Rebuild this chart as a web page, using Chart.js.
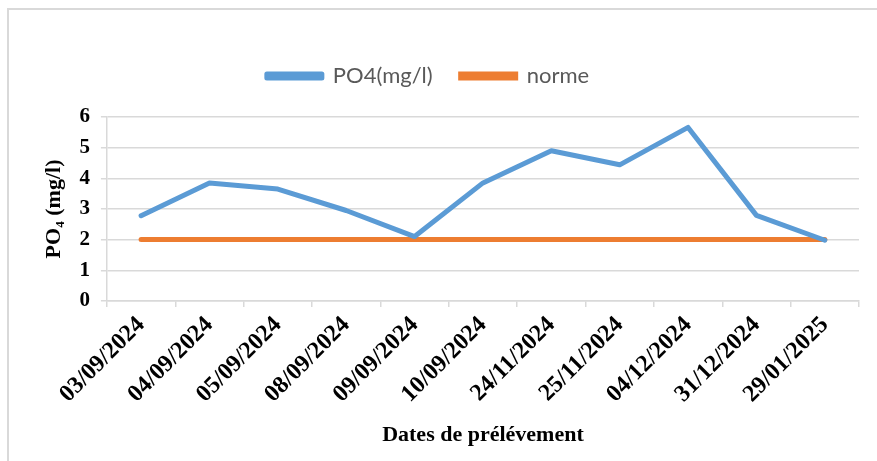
<!DOCTYPE html>
<html>
<head>
<meta charset="utf-8">
<script src="https://cdn.jsdelivr.net/npm/chart.js@4.4.1/dist/chart.umd.min.js"></script>
<style>
  html, body { margin: 0; padding: 0; background: #fff; }
  #wrap { position: relative; width: 877px; height: 461px; overflow: hidden; }
  #frame { position: absolute; left: 7px; top: 8px; width: 900px; height: 500px;
           border-top: 2px solid #d9d9d9; border-left: 2px solid #d9d9d9; }
  #c { position: absolute; left: 0; top: 0; }
</style>
</head>
<body>
<div id="wrap">
  <div id="frame"></div>
  <canvas id="c" width="877" height="461"></canvas>
</div>
<script>
// PO4 measurements vs. the limit value
const dates = ['03/09/2024', '04/09/2024', '05/09/2024', '08/09/2024', '09/09/2024',
               '10/09/2024', '24/11/2024', '25/11/2024', '04/12/2024', '31/12/2024', '29/01/2025'];
const po4   = [2.78, 3.85, 3.65, 2.95, 2.1, 3.85, 4.9, 4.44, 5.66, 2.79, 1.98];
const norme = [2, 2, 2, 2, 2, 2, 2, 2, 2, 2, 2];
const yTicks = [0, 1, 2, 3, 4, 5, 6];

const serif = '"Liberation Serif", "Times New Roman", serif';
const gridCol = '#d9d9d9';

// extra room under the legend + shift it left a bit (Excel puts it off-centre)
const legendTweak = {
  id: 'legendTweak',
  beforeUpdate(chart) {
    const lg = chart.legend;
    if (!lg || lg._tweaked) return;
    const fit = lg.fit;
    lg.fit = function () { fit.call(this); this.height += 20; };
    lg._tweaked = true;
  },
  afterLayout(chart) {
    const lg = chart.legend;
    lg.left -= 22; lg.right -= 22;
  }
};

new Chart(document.getElementById('c').getContext('2d'), {
  type: 'line',
  data: {
    labels: dates,
    datasets: [
      { label: 'PO4(mg/l)', data: po4, borderColor: '#5b9bd5', backgroundColor: '#5b9bd5',
        borderWidth: 5, pointRadius: 0, tension: 0, borderCapStyle: 'round', borderJoinStyle: 'round' },
      { label: 'norme', data: norme, borderColor: '#ed7d31', backgroundColor: '#ed7d31',
        borderWidth: 5, pointRadius: 0, tension: 0, borderCapStyle: 'round' }
    ]
  },
  plugins: [legendTweak],
  options: {
    responsive: false,
    animation: false,
    layout: { padding: { top: 37, left: 41, right: 18, bottom: 8 } },
    plugins: {
      tooltip: { enabled: false },
      legend: {
        position: 'top',
        labels: {
          boxWidth: 55, boxHeight: 4, padding: 28,
          color: '#595959',
          font: { family: 'Lato, "Open Sans", sans-serif', size: 22 }
        }
      }
    },
    scales: {
      x: {
        offset: true,
        grid: { offset: true, drawOnChartArea: false, color: gridCol, lineWidth: 1.5, tickLength: 6 },
        border: { color: gridCol, width: 1.5 },
        ticks: { autoSkip: false, maxRotation: 45, minRotation: 45, color: '#000', padding: 4,
                 font: { family: serif, size: 24, weight: 'bold' } },
        title: { display: true, text: 'Dates de prélévement', color: '#000',
                 font: { family: serif, size: 22, weight: 'bold' }, padding: { top: 10 } }
      },
      y: {
        min: 0, max: 6,
        afterBuildTicks: axis => { axis.ticks = yTicks.map(v => ({ value: v })); },
        grid: { color: gridCol, lineWidth: 1.5, tickLength: 6 },
        border: { color: gridCol, width: 1.5 },
        ticks: { color: '#000', padding: 11, font: { family: serif, size: 21, weight: 'bold' } },
        title: { display: true, text: 'PO₄ (mg/l)', color: '#000',
                 font: { family: serif, size: 22, weight: 'bold' }, padding: { top: 0, bottom: 1 } }
      }
    }
  }
});
</script>
</body>
</html>
